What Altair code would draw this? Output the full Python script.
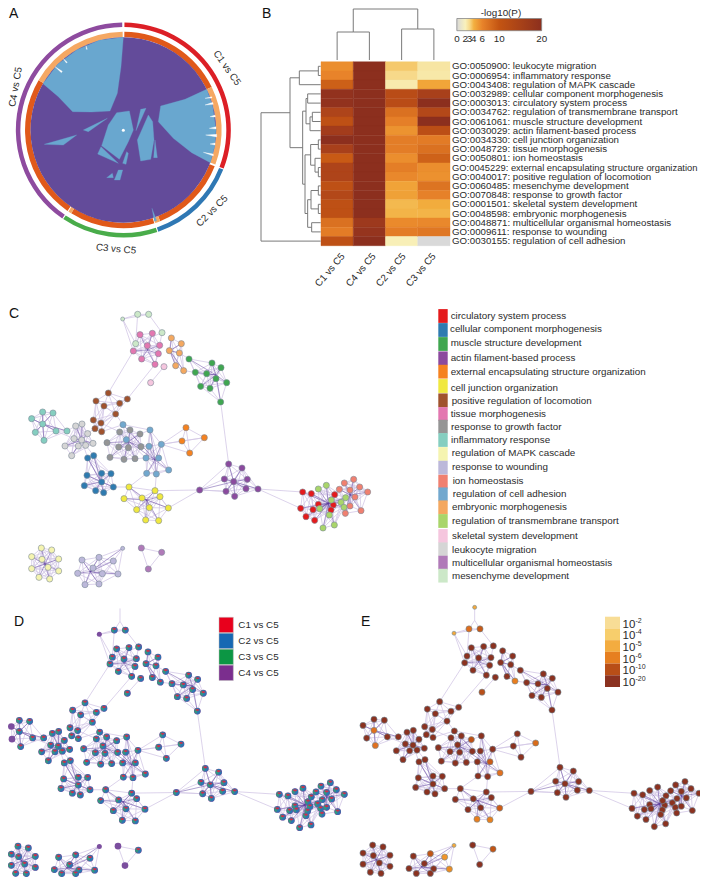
import math
import altair as alt
import pandas as pd

FONT = "Liberation Sans"
W, H = 692, 869
INK = "#2a2a2a"

# ------------------------------------------------------------------ panel A
RING_NAMES = ["C1 vs C5", "C2 vs C5", "C3 vs C5", "C4 vs C5"]
RING_COLORS = ["#DC1F26", "#2F78B4", "#49AC4A", "#8E4B9F"]
RING_START = [0.6, 111.6, 161.6, 214.6]
RING_END = [111.0, 161.0, 214.0, 359.4]
INNER_START = [0.6, 64.0, 111.6, 158.0, 161.6, 212.0, 214.6, 300.4]
INNER_END = [64.0, 110.6, 158.0, 161.0, 212.0, 214.0, 300.4, 359.6]
INNER_COLORS = ["#E0591A", "#F5A863"] * 4
DISC = "#634B9A"
CHORD = "#69A7CF"
LIGHT_CHORDS = [
    [(370,112),(298,121),(231,149),(173,193),(129,251),(175,290),(218,335),(275,336),(330,333),(352,280),(363,200)],
    [(620,268),(638,318),(648,390),(644,438),(631,488),(575,458),(520,415),(475,365),(482,318),(555,298)],
    [(350,338),(388,333),(400,390),(385,425),(358,478),(305,437),(325,375)],
    [(422,328),(438,325),(408,392)],
    [(445,345),(458,365),(462,420),(452,478),(422,483),(412,420)],
    [(465,420),(472,473),(461,473)],
    [(303,440),(355,490),(293,462)],
    [(380,455),(385,460),(378,493),(368,490)],
    [(355,510),(368,510),(360,540),(343,540)],
    [(337,520),(340,533),(320,533)],
    [(322,355),(250,390),(265,395)],
    [(230,405),(190,435),(133,433)],
    [(456,625),(470,662),(463,664)],
]
WHITE_SLIVERS = [
    [(615,295),(635,290),(636,294)], [(615,315),(638,307),(640,313)],
    [(630,350),(645,345),(646,351)], [(628,385),(648,380),(648,387)],
    [(617,405),(650,403),(650,411)], [(630,432),(645,429),(645,435)],
    [(610,457),(640,462),(640,468)], [(165,200),(187,214),(184,218)],
    [(190,176),(202,187),(199,189)], [(258,137),(262,148),(259,148)],
]

# ------------------------------------------------------------------ panel B
ROW_TERMS = [
    "GO:0050900: leukocyte migration", "GO:0006954: inflammatory response",
    "GO:0043408: regulation of MAPK cascade", "GO:0032989: cellular component morphogenesis",
    "GO:0003013: circulatory system process", "GO:0034762: regulation of transmembrane transport",
    "GO:0061061: muscle structure development", "GO:0030029: actin filament-based process",
    "GO:0034330: cell junction organization", "GO:0048729: tissue morphogenesis",
    "GO:0050801: ion homeostasis", "GO:0045229: external encapsulating structure organization",
    "GO:0040017: positive regulation of locomotion", "GO:0060485: mesenchyme development",
    "GO:0070848: response to growth factor", "GO:0001501: skeletal system development",
    "GO:0048598: embryonic morphogenesis", "GO:0048871: multicellular organismal homeostasis",
    "GO:0009611: response to wounding", "GO:0030155: regulation of cell adhesion",
]
LONGEST_ROW = "GO:0045229: external encapsulating structure organization"
HEAT_COLS = ["C1 vs C5", "C4 vs C5", "C2 vs C5", "C3 vs C5"]
C1_VALUES = [5.5,6,9,19,19,14,11,16,20,15,9.5,14,14,11,13,11,11,7.5,6.6,11]
C4_VALUES = [20,20,20,20,20,20,20,20,20,20,20,20,20,20,20,20,20,17,18.5,20]
C2_VALUES = [3.4,3,2.3,12,12,7.5,6.3,5.3,6.5,6.5,5.5,6.4,5.8,4.6,4.7,3.8,3.9,5.7,6.6,2.1]
C3_VALUES = [2.5,2.4,4.5,15,20,13,20,11.5,6.7,7.5,8.8,5.5,5.4,7.3,6.2,4.2,3.9,5.8,7,0]
CBAR_TICKS = [0, 2, 3, 4, 6, 10, 20]
CBAR_COLORS = ["#D9D9D9", "#F9F1BC", "#F7D98A", "#F3B040", "#E8832A", "#C35412", "#8C2F1E"]

TOP_TREE = [[(0.5,9),(0.5,32),(0,32),(0,60)], [(0.5,32),(1,32),(1,60)],
            [(0.5,9),(2.5,9),(2.5,29),(2,29),(2,60)], [(2.5,29),(3,29),(3,60)]]
LEFT_TREE = (18, (105, (133, (190, 0, 1), 2),
                  (143, (153, (158, 3, 4), (165, (172, 5, 6), 7)),
                   (150, (167, (190, 8, 9), (180, 10, (190, 11, 12))),
                    (158, (168, (190, 13, 14), (190, 15, 16)), (170, 17, 18))))), 19)

# ------------------------------------------------------------------ panel C legend
TERMS = ["circulatory system process","cellular component morphogenesis","muscle structure development",
 "actin filament-based process","external encapsulating structure organization","cell junction organization",
 "positive regulation of locomotion","tissue morphogenesis","response to growth factor","inflammatory response",
 "regulation of MAPK cascade","response to wounding","ion homeostasis","regulation of cell adhesion",
 "embryonic morphogenesis","regulation of transmembrane transport","skeletal system development",
 "leukocyte migration","multicellular organismal homeostasis","mesenchyme development"]
TERM_COLORS = ["#E41A1C","#2E7BB0","#3FA650","#8B4A9E","#F58220","#F0E840","#A0522D","#E377B0","#959595","#85CEC0",
 "#F5F4B0","#BCB8DA","#F08070","#72A8CE","#F4A860","#A9D56A","#F5C6DE","#D5D5D5","#B07AB8","#CCE8C8"]
TERM_TEXT_Y = [48,88,130,173,215,263,302,343,380,420,458,501,544,582,620,663,708,749,790,827]
TERM_BOX_Y = [48,90,132,175,215,258,301,342,380,420,462,503,545,583,622,663,708,748,788,827]
TERM_TEXT_X = [92,90,92,92,92,92,95,92,93,93,95,96,98,98,96,96,96,96,96,96]

# ------------------------------------------------------------------ network (3x crop units)
CLUSTERS = {
 "mesenchyme development": [(368,57),(413,43),(446,43),(486,98),(407,131)],
 "tissue morphogenesis": [(420,104),(457,100),(442,137),(479,136),(400,153),(425,177),(475,161),(465,193)],
 "embryonic morphogenesis": [(514,114),(544,131),(508,152),(538,159),(527,197),(551,212)],
 "skeletal system development": [(492,200),(452,248)],
 "muscle structure development": [(567,177),(636,189),(663,203),(586,217),(620,221),(648,236),(680,248),(602,259),(630,265),(662,306)],
 "positive regulation of locomotion": [(325,279),(288,303),(312,318),(359,310),(382,297),(347,342),(280,360),(303,369),(285,386),(305,395)],
 "inflammatory response": [(128,336),(159,339),(95,356),(128,372),(106,397),(168,393),(132,421),(201,393)],
 "leukocyte migration": [(227,378),(246,372),(222,416),(263,401),(195,438),(235,438),(257,436),(279,430),(215,467),(245,420)],
 "cellular component morphogenesis": [(263,474),(281,467),(261,526),(305,520),(333,521),(305,546),(253,557),(340,561),(287,572),(311,578)],
 "response to growth factor": [(359,396),(390,390),(420,402),(321,428),(356,441),(385,443),(423,440),(330,472),(372,478),(405,476)],
 "regulation of cell adhesion": [(369,374),(450,390),(379,419),(447,439),(484,433),(438,474),(476,474),(440,520),(469,522),(506,510)],
 "external encapsulating structure organization": [(558,383),(546,423),(613,413),(569,459)],
 "cell junction organization": [(387,561),(372,596),(426,594),(465,572),(480,590),(410,629),(448,623),(505,624),(437,660),(476,662)],
 "actin filament-based process": [(599,570),(686,492),(726,504),(673,537),(701,545),(742,538),(678,574),(738,566),(704,589),(774,567)],
 "circulatory system process": [(908,576),(934,581),(1004,584),(955,613),(902,625),(939,629),(1000,615),(993,630),(918,650),(944,661)],
 "regulation of transmembrane transport": [(955,567),(979,556),(994,600),(959,626),(988,645),(969,684),(1003,675),(1023,607),(1037,593),(1032,622)],
 "ion homeostasis": [(1033,549),(1061,538),(1018,568),(1050,570),(1079,561),(1103,576),(1065,591),(1050,618),(1083,632),(1036,640)],
 "regulation of MAPK cascade": [(124,744),(155,750),(95,770),(126,778),(176,777),(95,806),(144,802),(176,813),(117,832),(149,837)],
 "response to wounding": [(246,780),(297,772),(340,783),(368,745),(279,804),(233,820),(307,821),(354,822),(255,854),(297,852)],
 "multicellular organismal homeostasis": [(424,744),(485,757),(445,807)],
}
HUBS = {
 "tissue morphogenesis": (442,150), "embryonic morphogenesis": (510,152),
 "muscle structure development": (648,225), "inflammatory response": (128,372),
 "leukocyte migration": (245,420), "cellular component morphogenesis": (302,545),
 "response to growth factor": (385,425), "regulation of cell adhesion": (465,480),
 "cell junction organization": (440,600), "actin filament-based process": (701,545),
 "circulatory system process": (985,610), "regulation of transmembrane transport": (985,610),
 "ion homeostasis": (1050,585), "regulation of MAPK cascade": (135,792),
 "response to wounding": (270,815),
}
LINKS = [((368,57),(400,153)),((486,98),(479,136)),((407,131),(420,104)),((400,153),(325,279)),((465,193),(382,297)),
 ((551,212),(586,217)),((538,159),(567,177)),((662,306),(686,492)),((303,369),(263,401)),((201,393),(227,378)),
 ((168,393),(222,416)),((263,474),(245,420)),((281,467),(245,420)),((281,467),(305,520)),((263,474),(302,545)),
 ((340,561),(387,561)),((484,433),(546,423)),((484,433),(558,383)),((484,433),(569,459)),((484,433),(613,413)),
 ((476,474),(469,522)),((440,520),(387,561)),((465,572),(599,570)),((505,624),(599,570)),((599,570),(686,492)),
 ((599,570),(678,574)),((774,567),(908,576)),((774,567),(902,625)),((305,395),(369,374)),((359,396),(303,369)),
 ((465,572),(469,522)),((476,474),(506,510)),((423,440),(447,439)),((405,476),(438,474)),((369,374),(347,342))]
EXTRA_TOP = (430,-27)
EXTRA_LINKS = [((430,-27),(430,15)),((430,15),(413,43)),((430,15),(446,43))]
SMALL_NODES = [(368,57),(368,745)]
ONLY_C4 = [(368,57),(95,356),(106,397),(368,745),(424,744),(445,807)]
E_DEFAULT = "#8B3220"
E_COLORS = {(368,57):"#F4A83C",(413,43):"#DF6E1E",(446,43):"#C65A18",(128,372):"#E0701F",(132,421):"#E0701F",
 (551,212):"#E87E1F",(452,248):"#B8501A",(506,510):"#E07020",(476,474):"#C95A18",(420,402):"#BE5015",
 (613,413):"#D96B1A",(437,660):"#E87E1F",(476,662):"#E8801F",(505,624):"#CF5C17",(368,745):"#F4A83C",
 (340,783):"#F0952B",(354,822):"#EC8C22",(297,772):"#C25515",(485,757):"#C25515",EXTRA_TOP:"#F4A83C"}

D_NAMES = ["C1 vs C5","C2 vs C5","C3 vs C5","C4 vs C5"]
D_COLORS = ["#E8001C","#1668B3","#0C9644","#7B2E8E"]
PIE_COLORS = ["#C8324E","#2A78B0","#2F9A80","#7B4E9E"]
E_LABELS = ["-2","-4","-5","-6","-10","-20"]
E_SWATCH = ["#F8DD96","#F7CE6C","#F3AC40","#E67F20","#B84E17","#8B3220"]

# ------------------------------------------------------------------ helpers
PXX = alt.Scale(domain=[0, 708], range=[-8, 700])
PXY = alt.Scale(domain=[0, 885], range=[-8, 877])
def X(f, s=PXX): return alt.X(f, scale=s, axis=None, title=None)
def Y(f, s=PXY): return alt.Y(f, scale=s, axis=None, title=None)

def text(rows, size=9.8, align="left", color=INK, angle=0, baseline="middle"):
    df = pd.DataFrame(rows, columns=["x", "y", "t"])
    return alt.Chart(df).mark_text(font=FONT, fontSize=size, align=align, baseline=baseline,
                                   color=color, angle=angle).encode(
        x=X("x:Q"), y=Y("y:Q"), text="t:N")

def polygons(shapes, color, sx, sy):
    rows = [dict(id=i, o=j, x=p[0], y=p[1]) for i, s in enumerate(shapes) for j, p in enumerate(list(s) + [s[0]])]
    return alt.Chart(pd.DataFrame(rows)).mark_line(fill=color, stroke=color, strokeWidth=0.3).encode(
        x=X("x:Q", sx), y=Y("y:Q", sy), detail="id:N", order="o:Q")

def polylines(paths, sx, sy, color="#7a7a7a", width=1):
    rows = [dict(id=i, o=j, x=p[0], y=p[1]) for i, s in enumerate(paths) for j, p in enumerate(s)]
    return alt.Chart(pd.DataFrame(rows)).mark_line(stroke=color, strokeWidth=width).encode(
        x=X("x:Q", sx), y=Y("y:Q", sy), detail="id:N", order="o:Q")

layers = []

# panel A -----------------------------------------------------------
AX = alt.Scale(domain=[0, 750], range=[-8, 242])
AY = alt.Scale(domain=[0, 870], range=[-8, 282])
def arcs(starts, ends, colors, r0, r1):
    df = pd.DataFrame(dict(a=[math.radians(v) for v in starts], b=[math.radians(v) for v in ends],
                           c=colors, cx=370, cy=390))
    return alt.Chart(df).mark_arc(radius=r1, radius2=r0).encode(
        x=X("cx:Q", AX), y=Y("cy:Q", AY),
        theta=alt.Theta("a:Q", scale=None, stack=None), theta2="b:Q",
        color=alt.Color("c:N", scale=None))
layers += [arcs(RING_START, RING_END, RING_COLORS, 103, 107.5),
           arcs(INNER_START, INNER_END, INNER_COLORS, 92.7, 98.3),
           arcs([0], [360], [DISC], 0, 92.8),
           polygons(LIGHT_CHORDS, CHORD, AX, AY),
           polygons(WHITE_SLIVERS, "#FFFFFF", AX, AY)]
layers.append(alt.Chart(pd.DataFrame(dict(x=[370], y=[391]))).mark_circle(size=9, color="white", opacity=1).encode(
    x=X("x:Q", AX), y=Y("y:Q", AY)))
for (t, x, y, ang) in [("C1 vs C5",227,68,55),("C2 vs C5",212,211,315),("C3 vs C5",116,249,5),("C4 vs C5",15.5,87,280)]:
    layers.append(text([(x, y, t)], align="center", angle=ang))

# panel B -----------------------------------------------------------
HX = alt.Scale(domain=HEAT_COLS, range=[313, 442], paddingInner=0, paddingOuter=0)
HY = alt.Scale(domain=ROW_TERMS, range=[53.7, 237.7], paddingInner=0, paddingOuter=0)
HEAT_SCALE = alt.Scale(domain=CBAR_TICKS, range=CBAR_COLORS)
VALUE_COLS = [C1_VALUES, C4_VALUES, C2_VALUES, C3_VALUES]
heat = pd.DataFrame([dict(col=c, term=t, v=v) for c, vals in zip(HEAT_COLS, VALUE_COLS) for t, v in zip(ROW_TERMS, vals)])
layers.append(alt.Chart(heat).mark_rect(strokeWidth=0.4).encode(
    x=alt.X("col:N", scale=HX, axis=None), y=alt.Y("term:N", scale=HY, axis=None),
    color=alt.Color("v:Q", legend=None, scale=HEAT_SCALE),
    stroke=alt.Stroke("v:Q", legend=None, scale=HEAT_SCALE)))
labels = pd.DataFrame(dict(term=ROW_TERMS, x=452, fs=[9.4 if t == LONGEST_ROW else 9.7 for t in ROW_TERMS]))
layers.append(alt.Chart(labels).mark_text(font=FONT, align="left", baseline="middle", color=INK).encode(
    x=X("x:Q"), y=alt.Y("term:N", scale=HY, axis=None), text="term:N",
    size=alt.Size("fs:Q", scale=None)))
for c, xp in zip(HEAT_COLS, [330, 361, 391, 421]):
    layers.append(text([(xp, 270, c)], align="center", angle=310))

TX = alt.Scale(domain=[-0.5, 3.5], range=[313, 442])
TY = alt.Scale(domain=[0, 60], range=[-8, 52])
layers.append(polylines(TOP_TREE, TX, TY))

LX = alt.Scale(domain=[0, 210], range=[247, 317])
LY = alt.Scale(domain=[-0.5, 19.5], range=[53.7, 237.7])
tree_paths = []
def walk(n):
    if isinstance(n, int):
        return (197, n)
    x, a, b = n
    pa, pb = walk(a), walk(b)
    tree_paths.append([pa, (x, pa[1]), (x, pb[1]), pb])
    return (x, (pa[1] + pb[1]) / 2)
walk(LEFT_TREE)
layers.append(polylines(tree_paths, LX, LY))

CV = alt.Scale(domain=[-0.2, 20.2], range=[448, 534.5])
gradient = alt.Gradient(gradient="linear", x1=0, x2=1, y1=0, y2=0,
                        stops=[alt.GradientStop(offset=v / 20, color=c) for v, c in zip(CBAR_TICKS, CBAR_COLORS)])
layers.append(alt.Chart(pd.DataFrame(dict(a=[0], b=[20], y=[18.5], y2=[30.7]))).mark_rect(
    fill=gradient, stroke="#888888", strokeWidth=0.8).encode(
    x=alt.X("a:Q", scale=CV, axis=None), x2="b:Q", y=Y("y:Q"), y2="y2:Q"))
layers.append(alt.Chart(pd.DataFrame(dict(v=CBAR_TICKS, y=38.5))).mark_text(font=FONT, fontSize=9.8, color=INK, baseline="middle").encode(
    x=alt.X("v:Q", scale=CV, axis=None), y=Y("y:Q"), text="v:Q"))
layers.append(text([(501, 13, "-log10(P)")], align="center", size=9.8))

# networks ----------------------------------------------------------
faint, dark = [], []
for name, pts in CLUSTERS.items():
    for i, p in enumerate(pts):
        for q in pts[i + 1:]:
            if math.dist(p, q) < 90:
                faint.append((p, q))
    if name in HUBS:
        for p in pts:
            dark.append((HUBS[name], p))
faint += LINKS
def edge_df(pairs):
    return pd.DataFrame([dict(x=a[0], y=a[1], x2=b[0], y2=b[1]) for a, b in pairs])
nodes = pd.DataFrame([dict(x=p[0], y=p[1], c=TERM_COLORS[TERMS.index(n)], s=(16 if p in SMALL_NODES else 38),
                           e=E_COLORS.get(p, E_DEFAULT)) for n, pts in CLUSTERS.items() for p in pts])
extra = pd.DataFrame([dict(x=EXTRA_TOP[0], y=EXTRA_TOP[1], c=D_COLORS[3], s=16, e=E_COLORS[EXTRA_TOP])])

def edges(sx, sy, with_top):
    f = faint + (EXTRA_LINKS if with_top else [])
    return [
        alt.Chart(edge_df(f)).mark_rule(color="#D3C8E6", strokeWidth=0.8).encode(
            x=X("x:Q", sx), y=Y("y:Q", sy), x2="x2:Q", y2="y2:Q"),
        alt.Chart(edge_df(dark)).mark_rule(color="#5B3C9C", strokeWidth=0.8, opacity=0.6).encode(
            x=X("x:Q", sx), y=Y("y:Q", sy), x2="x2:Q", y2="y2:Q"),
    ]

# units u -> px: C x = u/3, y = 300 + u/3
CX = alt.Scale(domain=[0, 1200], range=[-8, 392])
CY = alt.Scale(domain=[0, 900], range=[292, 592])
layers += edges(CX, CY, False)
layers.append(alt.Chart(nodes).mark_point(filled=True, stroke="#7E8C98", strokeWidth=0.6, opacity=1).encode(
    x=X("x:Q", CX), y=Y("y:Q", CY), fill=alt.Fill("c:N", scale=None),
    size=alt.Size("s:Q", scale=None)))

# panel D: x = (u-70)/3, y = 595 + (0.925u + 65.3)/3; outermost nodes are held just inside the page edge
YSLOPE = 277.5 / 900
DX = alt.Scale(domain=[104, 1200], range=[-8 - 70 / 3 + 104 / 3, 392 - 70 / 3], clamp=True)
DY = alt.Scale(domain=[-30, 833], range=[587 + 65.3 / 3 - 30 * YSLOPE, 587 + 65.3 / 3 + 833 * YSLOPE], clamp=True)
layers += edges(DX, DY, True)
pie_rows = []
for n in nodes.to_dict("records"):
    p = (n["x"], n["y"])
    r = 2.3 if n["s"] < 20 else 3.1
    if p in ONLY_C4:
        pie_rows.append(dict(x=p[0], y=p[1], a=0, b=2 * math.pi, c=PIE_COLORS[3], r=r + 0.2))
        continue
    for a, b, c, rr in [(0, 360, PIE_COLORS[3], r + 0.3), (340, 560, PIE_COLORS[1], r), (200, 340, PIE_COLORS[2], r),
                        (290, 430, PIE_COLORS[0], r * 0.72)]:
        pie_rows.append(dict(x=p[0], y=p[1], a=math.radians(a), b=math.radians(b), c=c, r=rr))
pies = pd.DataFrame(pie_rows)
layers.append(alt.Chart(pies).mark_arc().encode(
    x=X("x:Q", DX), y=Y("y:Q", DY),
    theta=alt.Theta("a:Q", scale=None, stack=None), theta2="b:Q",
    radius=alt.Radius("r:Q", scale=None),
    color=alt.Color("c:N", scale=None), order=alt.Order("r:Q", sort="descending")))

# panel E: x = 350 + (u-56)/3, y = 595 + (0.925u + 62)/3
EX = alt.Scale(domain=[0, 1200], range=[342 - 56 / 3, 742 - 56 / 3])
EY = alt.Scale(domain=[-30, 836], range=[587 + 62 / 3 - 30 * YSLOPE, 587 + 62 / 3 + 836 * YSLOPE], clamp=True)
layers += edges(EX, EY, True)
e_nodes = pd.concat([nodes, extra])
layers.append(alt.Chart(e_nodes).mark_point(filled=True, stroke="#6E8C9A", strokeWidth=0.6, opacity=1).encode(
    x=X("x:Q", EX), y=Y("y:Q", EY), fill=alt.Fill("e:N", scale=None),
    size=alt.Size("s:Q", scale=None)))

# panel C legend ----------------------------------------------------
ys = [300 + v / 3 for v in TERM_BOX_Y]
box = pd.DataFrame(dict(a=438.3, b=447.7, y=[v - 6.9 for v in ys], y2=[v + 6.9 for v in ys], c=TERM_COLORS))
layers.append(alt.Chart(box).mark_rect().encode(
    x=X("a:Q"), x2="b:Q", y=Y("y:Q"), y2="y2:Q", color=alt.Color("c:N", scale=None)))
layers.append(text([(420 + x / 3, 300 + y / 3, t) for x, y, t in zip(TERM_TEXT_X, TERM_TEXT_Y, TERMS)]))

# panel D legend ----------------------------------------------------
DLY = alt.Scale(domain=D_NAMES, range=[609.3, 672.5], paddingInner=0.04, paddingOuter=0)
dl = pd.DataFrame(dict(n=D_NAMES, c=D_COLORS, a=219, b=233.3, tx=238.3))
layers.append(alt.Chart(dl).mark_rect(stroke="#BBBBBB", strokeWidth=0.5).encode(
    x=X("a:Q"), x2="b:Q", y=alt.Y("n:N", scale=DLY, axis=None), color=alt.Color("c:N", scale=None)))
layers.append(alt.Chart(dl).mark_text(font=FONT, fontSize=9.8, align="left", baseline="middle", color=INK).encode(
    x=X("tx:Q"), y=alt.Y("n:N", scale=DLY, axis=None), text="n:N"))

# panel E legend ----------------------------------------------------
ELY = alt.Scale(domain=E_LABELS, range=[608.7, 679], paddingInner=0, paddingOuter=0)
el = pd.DataFrame(dict(n=E_LABELS, c=E_SWATCH, a=605, b=620, tx=622.5, t="10", sx=635.5))
layers.append(alt.Chart(el).mark_rect().encode(
    x=X("a:Q"), x2="b:Q", y=alt.Y("n:N", scale=ELY, axis=None), color=alt.Color("c:N", scale=None)))
layers.append(alt.Chart(el).mark_text(font=FONT, fontSize=11.5, align="left", baseline="middle", color=INK, dy=2).encode(
    x=X("tx:Q"), y=alt.Y("n:N", scale=ELY, axis=None), text="t:N"))
layers.append(alt.Chart(el).mark_text(font=FONT, fontSize=7, align="left", baseline="middle", color=INK, dy=-2).encode(
    x=X("sx:Q"), y=alt.Y("n:N", scale=ELY, axis=None), text="n:N"))

# panel letters -----------------------------------------------------
layers.append(text([(9, 14, "A"), (262, 14, "B"), (9, 314, "C"), (14, 622, "D"), (361, 622, "E")], size=14, color="#111111"))

chart = alt.layer(*layers).resolve_scale(x="independent", y="independent").properties(
    width=W, height=H, padding=0, autosize=alt.AutoSizeParams(type="none"), background="white"
).configure_view(stroke=None)

chart.save("out.html", embed_options={"renderer": "svg", "actions": False})
